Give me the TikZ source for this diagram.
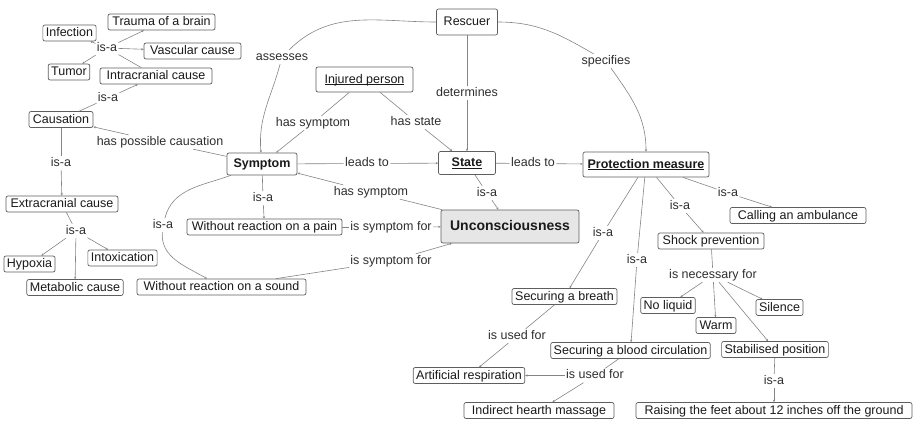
\documentclass[tikz,border=0pt]{standalone}
\usepackage{fontspec}
\setmainfont{Liberation Sans}
\usetikzlibrary{arrows.meta}
\definecolor{edgecol}{HTML}{848484}
\definecolor{boxcol}{HTML}{5E5E5E}
\definecolor{txtcol}{HTML}{1A1A1A}
\definecolor{unccol}{HTML}{E6E6E6}
% underline set close to the baseline, descenders pass through it
\newcommand{\undl}[1]{\underline{\smash{#1}}}
\begin{document}
\begin{tikzpicture}[x=1pt,y=-1pt,
  every node/.style={font=\fontsize{12.5}{15}\selectfont, text=txtcol},
  concept/.style={draw=boxcol, line width=0.7pt, rounded corners=2pt, fill=white,
    inner xsep=3pt, inner ysep=1.5pt, text height=9.5pt, text depth=2.5pt, minimum height=16pt},
  key/.style={concept, font=\fontsize{12.5}{15}\selectfont\bfseries},
  lbl/.style={inner sep=1.2pt, text height=9pt, text depth=2.5pt, text=black!82},
  conn/.style={draw=edgecol, line width=0.6pt},
  arr/.style={conn, -{Stealth[length=2.4pt,width=2.2pt]}},
]
\useasboundingbox (0,0) rectangle (915,421);

% ---- concepts: causes ----
\node[concept, minimum width=107pt] (trauma) at (161.5,22) {Trauma of a brain};
\node[concept, minimum width=49pt] (infection) at (69.5,33) {Infection};
\node[concept, minimum width=97pt] (vascular) at (192.5,51) {Vascular cause};
\node[concept, minimum width=38pt] (tumor) at (69,72) {Tumor};
\node[concept, minimum width=112pt] (intracranial) at (156,76) {Intracranial cause};
\node[concept, minimum width=64pt] (causation) at (61,119.5) {Causation};
\node[concept, minimum width=112pt] (extracranial) at (62,204) {Extracranial cause};
\node[concept, minimum width=47pt] (hypoxia) at (29.5,264) {Hypoxia};
\node[concept, minimum width=65pt] (intoxication) at (122.5,258) {Intoxication};
\node[concept, minimum width=92pt] (metabolic) at (75,287.5) {Metabolic cause};

% ---- concepts: centre ----
\node[concept, minimum width=61pt, minimum height=26pt] (rescuer) at (467,22) {Rescuer};
\node[concept, minimum width=97pt, minimum height=25pt] (injured) at (364.5,79.5) {\undl{Injured person}};
\node[key, minimum width=70pt, minimum height=22pt] (symptom) at (262,164) {Symptom};
\node[key, minimum width=57pt, minimum height=23pt] (state) at (467,163) {\undl{State}};
\node[key, minimum width=126pt, minimum height=25pt] (pm) at (646,164.5) {\undl{Protection measure}};
\node[concept, fill=unccol, minimum width=138pt, minimum height=33pt,
  font=\fontsize{14}{16}\selectfont\bfseries] (unc) at (510,226.5) {Unconsciousness};
\node[concept, minimum width=155pt] (pain) at (264.5,227) {Without reaction on a pain};
\node[concept, minimum width=169pt] (sound) at (221.5,287) {Without reaction on a sound};

% ---- concepts: protection measures ----
\node[concept, minimum width=136pt] (calling) at (798,215.5) {Calling an ambulance};
\node[concept, minimum width=106pt] (shock) at (711,241) {Shock prevention};
\node[concept, minimum width=105pt] (breath) at (564.5,296.5) {Securing a breath};
\node[concept, minimum width=52pt] (noliquid) at (668,305.5) {No liquid};
\node[concept, minimum width=43pt] (silence) at (779.5,307.5) {Silence};
\node[concept, minimum width=40pt] (warm) at (716,325.5) {Warm};
\node[concept, minimum width=155pt] (blood) at (630.5,350.5) {Securing a blood circulation};
\node[concept, minimum width=104pt] (stab) at (775,349.5) {Stabilised position};
\node[concept, minimum width=108pt] (artificial) at (469,375.5) {Artificial respiration};
\node[concept, minimum width=150pt] (indirect) at (539,410.5) {Indirect hearth massage};
\node[concept, minimum width=276pt] (raising) at (774,410.5) {Raising the feet about 12 inches off the ground};

% ---- link labels ----
\node[lbl] (isa1) at (107,48) {is-a};
\node[lbl] (isa2) at (108,98) {is-a};
\node[lbl] (isa3) at (61,163) {is-a};
\node[lbl] (isa4) at (76,231) {is-a};
\node[lbl] (hpc) at (160,142) {has possible causation};
\node[lbl] (assesses) at (282,57) {assesses};
\node[lbl] (hassym1) at (313,123) {has symptom};
\node[lbl] (hasstate) at (416,122) {has state};
\node[lbl] (determines) at (467,93) {determines};
\node[lbl] (specifies) at (606,61) {specifies};
\node[lbl] (leads1) at (367,163.5) {leads to};
\node[lbl] (leads2) at (533,163.5) {leads to};
\node[lbl] (hassym2) at (371,192) {has symptom};
\node[lbl] (isa5) at (487,193) {is-a};
\node[lbl] (isf1) at (391,227) {is symptom for};
\node[lbl] (isf2) at (391,261) {is symptom for};
\node[lbl] (isa6) at (263,198) {is-a};
\node[lbl] (isa7) at (163,225) {is-a};
\node[lbl] (isa8) at (728,193) {is-a};
\node[lbl] (isa9) at (680,206) {is-a};
\node[lbl] (isa10) at (603,233) {is-a};
\node[lbl] (isa11) at (637,260) {is-a};
\node[lbl] (necessary) at (713,275) {is necessary for};
\node[lbl] (used1) at (517,336) {is used for};
\node[lbl] (used2) at (595,375.5) {is used for};
\node[lbl] (isa12) at (774,381) {is-a};

% ---- links: causes ----
\draw[conn] (intracranial) -- (isa1);
\foreach \t in {trauma,infection,vascular,tumor} \draw[arr] (isa1) -- (\t);
\draw[conn] (causation) -- (isa2);
\draw[arr] (isa2) -- (intracranial);
\draw[conn] (causation) -- (isa3);
\draw[arr] (isa3) -- (extracranial);
\draw[conn] (extracranial) -- (isa4);
\foreach \t in {hypoxia,intoxication,metabolic} \draw[arr] (isa4) -- (\t);
\draw[conn] (symptom) -- (hpc);
\draw[arr] (hpc) -- (causation);

% ---- links: centre ----
\draw[conn] (rescuer) to[out=180,in=45] (assesses);
\draw[arr] (assesses) to[out=-105,in=95] (symptom);
\draw[conn] (injured) -- (hassym1);
\draw[arr] (hassym1) -- (symptom);
\draw[conn] (injured) -- (hasstate);
\draw[arr] (hasstate) -- (state);
\draw[conn] (rescuer) -- (determines);
\draw[arr] (determines) -- (state);
\draw[conn] (rescuer) to[out=0,in=150] (specifies);
\draw[arr] (specifies) to[out=-55,in=90] (pm);
\draw[conn] (symptom) -- (leads1);
\draw[arr] (leads1) -- (state);
\draw[conn] (state) -- (leads2);
\draw[arr] (leads2) -- (pm);
\draw[conn] (unc) -- (hassym2);
\draw[arr] (hassym2) -- (symptom);
\draw[conn] (state) -- (isa5);
\draw[arr] (isa5) -- (unc);
\draw[conn] (pain) -- (isf1);
\draw[arr] (isf1) -- (unc);
\draw[conn] (sound) -- (isf2);
\draw[arr] (isf2) -- (unc);
\draw[conn] (symptom) -- (isa6);
\draw[arr] (isa6) -- (pain);
\draw[conn] (symptom) to[out=200,in=75] (isa7);
\draw[arr] (isa7) to[out=-95,in=150] (sound);

% ---- links: protection measures ----
\draw[conn] (pm) -- (isa8);
\draw[arr] (isa8) -- (calling);
\draw[conn] (pm) -- (isa9);
\draw[arr] (isa9) -- (shock);
\draw[conn] (pm) -- (isa10);
\draw[arr] (isa10) -- (breath);
\draw[conn] (pm) -- (isa11);
\draw[arr] (isa11) -- (blood);
\draw[conn] (shock) -- (necessary);
\foreach \t in {noliquid,warm,silence,stab} \draw[arr] (necessary) -- (\t);
\draw[conn] (breath) -- (used1);
\draw[arr] (used1) -- (artificial);
\draw[conn] (blood) -- (used2);
\draw[arr] (used2) -- (artificial);
\draw[arr] (used2) -- (indirect);
\draw[conn] (stab) -- (isa12);
\draw[arr] (isa12) -- (raising);
\end{tikzpicture}
\end{document}
